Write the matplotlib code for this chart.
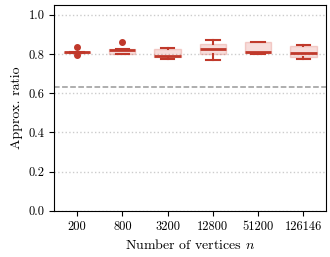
import matplotlib.pyplot as plt
import numpy as np

plt.rcParams['font.family'] = 'serif'
plt.rcParams['font.serif'] = ['cmr10']
plt.rcParams['mathtext.fontset'] = 'cm'
plt.rcParams['axes.formatter.use_mathtext'] = True

labels = ['200', '800', '3200', '12800', '51200', '126146']
q1 = [0.805, 0.800, 0.786, 0.798, 0.804, 0.783]
med = [0.810, 0.820, 0.790, 0.824, 0.810, 0.807]
q3 = [0.812, 0.824, 0.824, 0.851, 0.860, 0.839]
whislo = [0.805, 0.800, 0.774, 0.771, 0.798, 0.776]
whishi = [0.812, 0.824, 0.832, 0.873, 0.860, 0.846]
fliers = [[0.836, 0.795], [0.860], [], [], [], []]
ref_line = 1 - 1 / np.e

red = '#c0392b'
stats = []
for i in range(len(labels)):
    stats.append(dict(label=labels[i], q1=q1[i], med=med[i], q3=q3[i],
                      whislo=whislo[i], whishi=whishi[i], fliers=fliers[i]))

fig, ax = plt.subplots(figsize=(3.3, 2.57), dpi=100)
ax.bxp(stats, positions=range(len(labels)), widths=0.58, patch_artist=True,
       boxprops=dict(facecolor=(0.85, 0.35, 0.3, 0.2), edgecolor=(0.85, 0.35, 0.3, 0.25), linewidth=1),
       medianprops=dict(color=red, linewidth=2),
       whiskerprops=dict(color=red, linewidth=1.5),
       capprops=dict(color=red, linewidth=1.5),
       capwidths=0.3,
       flierprops=dict(marker='o', markerfacecolor=red, markeredgecolor=red, markersize=4))
ax.axhline(ref_line, color='#999999', linestyle='--', linewidth=1.1, zorder=0)
ax.yaxis.grid(True, linestyle=':', color='#cccccc', linewidth=1)
ax.set_axisbelow(True)
ax.set_ylim(0, 1.05)
ax.set_xlim(-0.5, len(labels) - 0.5)
ax.set_yticks([0.0, 0.2, 0.4, 0.6, 0.8, 1.0])
ax.set_yticklabels(['0.0', '0.2', '0.4', '0.6', '0.8', '1.0'])
ax.tick_params(labelsize=9)
ax.set_ylabel('Approx. ratio', fontsize=10)
ax.set_xlabel('Number of vertices $n$', fontsize=10)
fig.subplots_adjust(left=0.165, right=0.988, top=0.98, bottom=0.18)
plt.savefig('out.png')
